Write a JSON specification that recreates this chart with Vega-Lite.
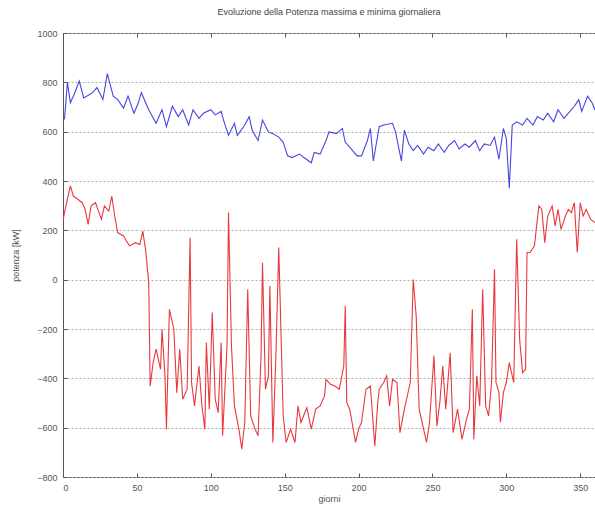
{
  "$schema": "https://vega.github.io/schema/vega-lite/v6.json",
  "width": 532,
  "height": 444,
  "autosize": {"type": "none"},
  "padding": {"left": 63, "top": 33, "right": 0, "bottom": 31},
  "background": "white",
  "title": {"text": "Evoluzione della Potenza massima e minima giornaliera", "fontSize": 9, "fontWeight": "normal", "color": "#444", "font": "Liberation Sans", "offset": 12, "anchor": "middle"},
  "config": {
    "view": {"stroke": "#555", "strokeWidth": 1},
    "axis": {"labelFont": "Liberation Sans", "titleFont": "Liberation Sans", "labelFontSize": 9, "titleFontSize": 9, "titleFontWeight": "normal", "labelColor": "#555", "titleColor": "#555", "domainColor": "#555", "tickColor": "#555", "gridColor": "#b0b0b0", "gridDash": [2, 2], "gridWidth": 1}
  },
  "data": {"name": "pts"},
  "datasets": {
    "pts": [
      {"d":1,"v":650,"s":"max"},{"d":3,"v":800,"s":"max"},{"d":5,"v":717,"s":"max"},{"d":8,"v":758,"s":"max"},{"d":11,"v":805,"s":"max"},{"d":14,"v":737,"s":"max"},{"d":18,"v":751,"s":"max"},{"d":20,"v":758,"s":"max"},{"d":23,"v":779,"s":"max"},{"d":27,"v":730,"s":"max"},{"d":30,"v":835,"s":"max"},{"d":34,"v":744,"s":"max"},{"d":37,"v":730,"s":"max"},{"d":41,"v":696,"s":"max"},{"d":44,"v":744,"s":"max"},{"d":48,"v":675,"s":"max"},{"d":51,"v":717,"s":"max"},{"d":53,"v":758,"s":"max"},{"d":58,"v":689,"s":"max"},{"d":63,"v":634,"s":"max"},{"d":67,"v":689,"s":"max"},{"d":70,"v":620,"s":"max"},{"d":74,"v":703,"s":"max"},{"d":78,"v":661,"s":"max"},{"d":81,"v":689,"s":"max"},{"d":85,"v":627,"s":"max"},{"d":88,"v":689,"s":"max"},{"d":92,"v":654,"s":"max"},{"d":95,"v":675,"s":"max"},{"d":100,"v":689,"s":"max"},{"d":103,"v":668,"s":"max"},{"d":107,"v":682,"s":"max"},{"d":109,"v":640,"s":"max"},{"d":112,"v":585,"s":"max"},{"d":116,"v":634,"s":"max"},{"d":118,"v":585,"s":"max"},{"d":123,"v":627,"s":"max"},{"d":126,"v":661,"s":"max"},{"d":128,"v":606,"s":"max"},{"d":132,"v":564,"s":"max"},{"d":135,"v":647,"s":"max"},{"d":139,"v":599,"s":"max"},{"d":142,"v":592,"s":"max"},{"d":146,"v":578,"s":"max"},{"d":149,"v":557,"s":"max"},{"d":152,"v":502,"s":"max"},{"d":155,"v":495,"s":"max"},{"d":160,"v":509,"s":"max"},{"d":163,"v":495,"s":"max"},{"d":168,"v":474,"s":"max"},{"d":170,"v":516,"s":"max"},{"d":174,"v":509,"s":"max"},{"d":178,"v":564,"s":"max"},{"d":180,"v":599,"s":"max"},{"d":185,"v":592,"s":"max"},{"d":189,"v":613,"s":"max"},{"d":191,"v":557,"s":"max"},{"d":194,"v":537,"s":"max"},{"d":199,"v":502,"s":"max"},{"d":202,"v":502,"s":"max"},{"d":206,"v":564,"s":"max"},{"d":208,"v":613,"s":"max"},{"d":210,"v":481,"s":"max"},{"d":214,"v":620,"s":"max"},{"d":217,"v":627,"s":"max"},{"d":223,"v":634,"s":"max"},{"d":225,"v":599,"s":"max"},{"d":229,"v":481,"s":"max"},{"d":231,"v":606,"s":"max"},{"d":234,"v":550,"s":"max"},{"d":237,"v":523,"s":"max"},{"d":240,"v":544,"s":"max"},{"d":244,"v":509,"s":"max"},{"d":247,"v":537,"s":"max"},{"d":251,"v":523,"s":"max"},{"d":254,"v":550,"s":"max"},{"d":258,"v":516,"s":"max"},{"d":261,"v":544,"s":"max"},{"d":265,"v":564,"s":"max"},{"d":268,"v":530,"s":"max"},{"d":272,"v":550,"s":"max"},{"d":275,"v":537,"s":"max"},{"d":279,"v":564,"s":"max"},{"d":282,"v":523,"s":"max"},{"d":285,"v":550,"s":"max"},{"d":289,"v":544,"s":"max"},{"d":292,"v":578,"s":"max"},{"d":295,"v":488,"s":"max"},{"d":298,"v":613,"s":"max"},{"d":300,"v":571,"s":"max"},{"d":302,"v":371,"s":"max"},{"d":304,"v":627,"s":"max"},{"d":307,"v":640,"s":"max"},{"d":311,"v":627,"s":"max"},{"d":314,"v":654,"s":"max"},{"d":318,"v":627,"s":"max"},{"d":321,"v":661,"s":"max"},{"d":325,"v":647,"s":"max"},{"d":328,"v":675,"s":"max"},{"d":332,"v":640,"s":"max"},{"d":335,"v":689,"s":"max"},{"d":339,"v":654,"s":"max"},{"d":342,"v":675,"s":"max"},{"d":346,"v":703,"s":"max"},{"d":349,"v":730,"s":"max"},{"d":351,"v":682,"s":"max"},{"d":355,"v":744,"s":"max"},{"d":358,"v":717,"s":"max"},{"d":360,"v":689,"s":"max"},
      {"d":0,"v":240,"s":"min"},{"d":2,"v":300,"s":"min"},{"d":5,"v":380,"s":"min"},{"d":7,"v":339,"s":"min"},{"d":10,"v":326,"s":"min"},{"d":13,"v":312,"s":"min"},{"d":15,"v":285,"s":"min"},{"d":17,"v":224,"s":"min"},{"d":19,"v":299,"s":"min"},{"d":22,"v":312,"s":"min"},{"d":24,"v":278,"s":"min"},{"d":26,"v":245,"s":"min"},{"d":28,"v":299,"s":"min"},{"d":31,"v":278,"s":"min"},{"d":33,"v":339,"s":"min"},{"d":35,"v":258,"s":"min"},{"d":37,"v":191,"s":"min"},{"d":41,"v":177,"s":"min"},{"d":43,"v":157,"s":"min"},{"d":45,"v":137,"s":"min"},{"d":49,"v":150,"s":"min"},{"d":52,"v":143,"s":"min"},{"d":54,"v":197,"s":"min"},{"d":56,"v":116,"s":"min"},{"d":58,"v":-12,"s":"min"},{"d":59,"v":-431,"s":"min"},{"d":61,"v":-336,"s":"min"},{"d":63,"v":-282,"s":"min"},{"d":66,"v":-363,"s":"min"},{"d":67,"v":-201,"s":"min"},{"d":69,"v":-390,"s":"min"},{"d":70,"v":-606,"s":"min"},{"d":72,"v":-120,"s":"min"},{"d":75,"v":-201,"s":"min"},{"d":77,"v":-458,"s":"min"},{"d":79,"v":-282,"s":"min"},{"d":81,"v":-485,"s":"min"},{"d":84,"v":-444,"s":"min"},{"d":86,"v":170,"s":"min"},{"d":87,"v":-417,"s":"min"},{"d":89,"v":-512,"s":"min"},{"d":92,"v":-350,"s":"min"},{"d":94,"v":-512,"s":"min"},{"d":96,"v":-606,"s":"min"},{"d":97,"v":-255,"s":"min"},{"d":99,"v":-525,"s":"min"},{"d":101,"v":-133,"s":"min"},{"d":103,"v":-485,"s":"min"},{"d":105,"v":-539,"s":"min"},{"d":107,"v":-255,"s":"min"},{"d":108,"v":-633,"s":"min"},{"d":111,"v":-269,"s":"min"},{"d":112,"v":272,"s":"min"},{"d":114,"v":-269,"s":"min"},{"d":116,"v":-512,"s":"min"},{"d":119,"v":-606,"s":"min"},{"d":121,"v":-687,"s":"min"},{"d":123,"v":-579,"s":"min"},{"d":125,"v":-39,"s":"min"},{"d":127,"v":-552,"s":"min"},{"d":130,"v":-606,"s":"min"},{"d":132,"v":-633,"s":"min"},{"d":134,"v":-309,"s":"min"},{"d":135,"v":69,"s":"min"},{"d":137,"v":-444,"s":"min"},{"d":139,"v":-390,"s":"min"},{"d":140,"v":-25,"s":"min"},{"d":142,"v":-660,"s":"min"},{"d":144,"v":-323,"s":"min"},{"d":146,"v":130,"s":"min"},{"d":149,"v":-552,"s":"min"},{"d":151,"v":-660,"s":"min"},{"d":154,"v":-606,"s":"min"},{"d":157,"v":-660,"s":"min"},{"d":159,"v":-512,"s":"min"},{"d":161,"v":-579,"s":"min"},{"d":165,"v":-519,"s":"min"},{"d":168,"v":-606,"s":"min"},{"d":171,"v":-525,"s":"min"},{"d":174,"v":-512,"s":"min"},{"d":177,"v":-471,"s":"min"},{"d":178,"v":-404,"s":"min"},{"d":181,"v":-424,"s":"min"},{"d":184,"v":-431,"s":"min"},{"d":187,"v":-444,"s":"min"},{"d":190,"v":-350,"s":"min"},{"d":191,"v":-106,"s":"min"},{"d":192,"v":-498,"s":"min"},{"d":194,"v":-525,"s":"min"},{"d":198,"v":-660,"s":"min"},{"d":200,"v":-606,"s":"min"},{"d":202,"v":-579,"s":"min"},{"d":205,"v":-444,"s":"min"},{"d":208,"v":-431,"s":"min"},{"d":209,"v":-512,"s":"min"},{"d":211,"v":-674,"s":"min"},{"d":213,"v":-498,"s":"min"},{"d":214,"v":-444,"s":"min"},{"d":217,"v":-417,"s":"min"},{"d":219,"v":-390,"s":"min"},{"d":221,"v":-512,"s":"min"},{"d":223,"v":-404,"s":"min"},{"d":226,"v":-417,"s":"min"},{"d":228,"v":-620,"s":"min"},{"d":231,"v":-525,"s":"min"},{"d":235,"v":-417,"s":"min"},{"d":237,"v":1,"s":"min"},{"d":239,"v":-147,"s":"min"},{"d":241,"v":-525,"s":"min"},{"d":244,"v":-606,"s":"min"},{"d":246,"v":-660,"s":"min"},{"d":248,"v":-579,"s":"min"},{"d":251,"v":-309,"s":"min"},{"d":253,"v":-593,"s":"min"},{"d":255,"v":-498,"s":"min"},{"d":257,"v":-350,"s":"min"},{"d":259,"v":-525,"s":"min"},{"d":262,"v":-296,"s":"min"},{"d":264,"v":-620,"s":"min"},{"d":267,"v":-525,"s":"min"},{"d":270,"v":-647,"s":"min"},{"d":273,"v":-566,"s":"min"},{"d":275,"v":-525,"s":"min"},{"d":277,"v":-120,"s":"min"},{"d":278,"v":-647,"s":"min"},{"d":280,"v":-390,"s":"min"},{"d":282,"v":-512,"s":"min"},{"d":284,"v":-39,"s":"min"},{"d":286,"v":-512,"s":"min"},{"d":288,"v":-552,"s":"min"},{"d":290,"v":-417,"s":"min"},{"d":292,"v":42,"s":"min"},{"d":293,"v":-417,"s":"min"},{"d":295,"v":-458,"s":"min"},{"d":296,"v":-579,"s":"min"},{"d":298,"v":-458,"s":"min"},{"d":300,"v":-417,"s":"min"},{"d":302,"v":-336,"s":"min"},{"d":305,"v":-417,"s":"min"},{"d":307,"v":164,"s":"min"},{"d":309,"v":-242,"s":"min"},{"d":311,"v":-377,"s":"min"},{"d":313,"v":-363,"s":"min"},{"d":314,"v":110,"s":"min"},{"d":316,"v":110,"s":"min"},{"d":319,"v":137,"s":"min"},{"d":322,"v":299,"s":"min"},{"d":324,"v":285,"s":"min"},{"d":326,"v":150,"s":"min"},{"d":328,"v":258,"s":"min"},{"d":331,"v":299,"s":"min"},{"d":333,"v":218,"s":"min"},{"d":335,"v":285,"s":"min"},{"d":337,"v":204,"s":"min"},{"d":340,"v":258,"s":"min"},{"d":342,"v":285,"s":"min"},{"d":344,"v":272,"s":"min"},{"d":346,"v":312,"s":"min"},{"d":348,"v":110,"s":"min"},{"d":350,"v":312,"s":"min"},{"d":352,"v":258,"s":"min"},{"d":354,"v":285,"s":"min"},{"d":357,"v":245,"s":"min"},{"d":360,"v":231,"s":"min"}
    ]
  },
  "layer": [
    {
      "mark": {"type": "line", "strokeWidth": 1.1, "clip": true},
      "encoding": {
        "x": {"field": "d", "type": "quantitative", "scale": {"domain": [0, 360], "nice": false, "zero": false},
              "axis": {"orient": "bottom", "values": [0, 50, 100, 150, 200, 250, 300, 350], "format": "d", "grid": false, "title": "giorni", "tickSize": -4, "labelPadding": 10, "titlePadding": 2, "domain": false}},
        "y": {"field": "v", "type": "quantitative", "scale": {"domain": [-800, 1000], "nice": false, "zero": false},
              "axis": {"values": [-800, -600, -400, -200, 0, 200, 400, 600, 800, 1000], "format": "d", "grid": true, "title": "potenza  [kW]", "tickSize": -4, "labelPadding": 10, "titlePadding": 16, "domain": false}},
        "color": {"field": "s", "type": "nominal", "scale": {"domain": ["max", "min"], "range": ["#4646e0", "#e8383d"]}, "legend": null}
      }
    },
    {
      "mark": {"type": "rule", "opacity": 0},
      "encoding": {
        "x": {"field": "d", "type": "quantitative",
              "axis": {"orient": "top", "values": [0, 50, 100, 150, 200, 250, 300, 350], "grid": false, "labels": false, "title": null, "tickSize": -4, "domain": false}}
      }
    }
  ],
  "resolve": {"axis": {"x": "independent"}}
}
